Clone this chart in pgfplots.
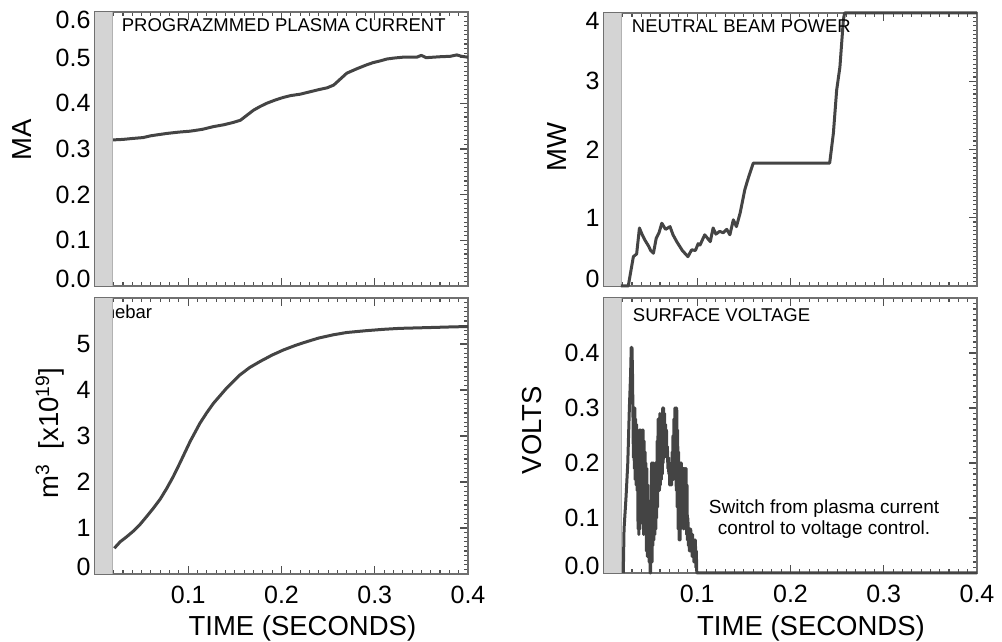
\documentclass[border=0pt]{standalone}
\usepackage{fontspec}
\setmainfont{Liberation Sans}
\usepackage{pgfplots}
\pgfplotsset{compat=1.18}
\definecolor{band}{HTML}{D4D4D4}
\definecolor{frame}{HTML}{707070}
\definecolor{tickc}{HTML}{505050}
\definecolor{trace}{HTML}{444444}
\newcommand\titlefont{\fontsize{18.5}{18.5}\selectfont}
% end labels of the y axis are pulled inside the box
\newcommand\ylab[1]{%
  \ifnum\ticknum=0 \raisebox{7pt}[\height][\depth]{\pgfmathprintnumber{\tick}}%
  \else\ifnum\ticknum=#1 \raisebox{-8pt}[\height][\depth]{\pgfmathprintnumber{\tick}}%
  \else\pgfmathprintnumber{\tick}\fi\fi}

\pgfplotsset{
  panel/.style={
    scale only axis, width=373pt, anchor=south west,
    xmin=0, xmax=0.4,
    xtick={0.1,0.2,0.3,0.4},
    minor xtick={0,0.01,...,0.4},
    tick align=inside,
    major tick length=8pt, minor tick length=4pt,
    every major tick/.append style={draw=tickc, line width=1.3pt},
    every minor tick/.append style={draw=tickc, line width=1.1pt},
    axis line style={draw=frame, line width=2pt},
    tick label style={font=\fontsize{25}{25}\selectfont},
    label style={font=\fontsize{27.5}{27.5}\selectfont},
    /pgf/number format/assume math mode=true,
    xticklabel style={yshift=-9pt},
    yticklabel style={xshift=-1pt},
  },
  trace/.style={draw=trace, line width=3pt, line join=round, mark=none},
  fix1/.style={/pgf/number format/.cd, fixed, fixed zerofill, precision=1},
}

\begin{document}
\begin{tikzpicture}
\path[use as bounding box] (0,0) rectangle (1002pt,642pt);

% programmed plasma current
\begin{axis}[panel, fix1, at={(95pt,356pt)}, height=274pt,
  ymin=0, ymax=0.6, ytick={0,0.1,0.2,0.3,0.4,0.5,0.6},
  minor ytick={0,0.01,...,0.6},
  xticklabels={}, yticklabel={\ylab{6}},
  ylabel={MA}, ylabel style={at={(axis description cs:-0.196,0.533)}, anchor=center}]
\addplot[draw=none, fill=band] coordinates {(0,0.6)(0.019,0.6)} \closedcycle;
\addplot[gray!60, line width=0.6pt] coordinates {(0.019,0)(0.019,0.6)};
\addplot[trace] coordinates {
 (0.0195,0.320)(0.0204,0.320)(0.030,0.321)(0.040,0.323)(0.0515,0.325)(0.060,0.329)
 (0.0768,0.334)(0.090,0.337)(0.102,0.339)(0.115,0.343)(0.127,0.349)(0.138,0.353)
 (0.148,0.358)(0.156,0.363)(0.163,0.374)(0.170,0.385)(0.177,0.393)(0.184,0.400)
 (0.193,0.407)(0.202,0.413)(0.210,0.417)(0.220,0.420)(0.230,0.425)(0.240,0.430)
 (0.249,0.434)(0.256,0.440)(0.263,0.453)(0.270,0.466)(0.280,0.475)(0.291,0.484)
 (0.298,0.489)(0.306,0.493)(0.313,0.497)(0.320,0.499)(0.330,0.501)(0.345,0.501)
 (0.350,0.505)(0.355,0.500)(0.370,0.502)(0.381,0.503)(0.388,0.506)(0.393,0.503)
 (0.400,0.501)};
\node[anchor=base west, inner sep=0, font=\titlefont] at (rel axis cs:0.0716,0.927) {PROGRAZMMED PLASMA CURRENT};
\end{axis}

% neutral beam power
\begin{axis}[panel, at={(604pt,356pt)}, height=273pt, clip=false,
  ymin=0, ymax=4, ytick={0,1,2,3,4},
  minor ytick={0,0.0625,...,4},
  xticklabels={}, yticklabel={\ylab{4}},
  ylabel={MW}, ylabel style={at={(axis description cs:-0.126,0.509)}, anchor=center}]
\addplot[draw=none, fill=band] coordinates {(0,4)(0.019,4)} \closedcycle;
\addplot[gray!60, line width=0.6pt] coordinates {(0.019,0)(0.019,4)};
\addplot[trace] coordinates {
 (0.018,0)(0.026,0)(0.0315,0.43)(0.035,0.47)(0.038,0.85)(0.041,0.75)(0.044,0.67)
 (0.048,0.58)(0.050,0.52)(0.053,0.48)(0.056,0.70)(0.059,0.78)(0.062,0.92)(0.066,0.83)
 (0.0708,0.87)(0.074,0.75)(0.078,0.65)(0.084,0.52)(0.090,0.43)(0.094,0.53)(0.098,0.52)
 (0.101,0.62)(0.103,0.60)(0.108,0.75)(0.111,0.70)(0.114,0.65)(0.117,0.85)(0.120,0.76)
 (0.124,0.80)(0.128,0.78)(0.1316,0.83)(0.135,0.75)(0.1387,0.97)(0.142,0.87)(0.146,1.07)
 (0.151,1.41)(0.154,1.55)(0.160,1.80)(0.242,1.80)(0.246,2.24)(0.2495,2.87)(0.253,3.21)
 (0.2567,3.90)(0.258,4.0)(0.400,4.0)};
\node[anchor=base west, inner sep=0, font=\titlefont] at (rel axis cs:0.0743,0.930) {NEUTRAL BEAM POWER};
\end{axis}

% nebar
\begin{axis}[panel, at={(95pt,68pt)}, height=276pt,
  ymin=0, ymax=6, ytick={0,1,2,3,4,5},
  minor ytick={0,0.1,...,6}, yticklabel={\ylab{99}},
  xlabel={TIME (SECONDS)}, xlabel style={at={(axis description cs:0.556,-0.196)}, anchor=center},
  ylabel={m\textsuperscript{3}\ \ [x10\textsuperscript{19}]},
  ylabel style={at={(axis description cs:-0.121,0.511)}, anchor=center}]
\node[anchor=base west, inner sep=0, font=\titlefont] at (rel axis cs:0.0257,0.9275) {nebar};
\addplot[draw=none, fill=band] coordinates {(0,6)(0.019,6)} \closedcycle;
\addplot[gray!60, line width=0.6pt] coordinates {(0.019,0)(0.019,6)};
\addplot[trace] coordinates {
 (0.0207,0.56)(0.027,0.70)(0.034,0.81)(0.041,0.93)(0.048,1.07)(0.055,1.24)(0.0626,1.43)
 (0.070,1.63)(0.0769,1.86)(0.084,2.12)(0.091,2.41)(0.102,2.88)(0.1126,3.28)(0.120,3.51)
 (0.127,3.71)(0.1415,4.05)(0.1555,4.33)(0.166,4.49)(0.177,4.62)(0.190,4.76)(0.202,4.87)
 (0.215,4.97)(0.227,5.05)(0.240,5.13)(0.2555,5.20)(0.270,5.25)(0.291,5.29)(0.310,5.32)
 (0.327,5.34)(0.345,5.35)(0.363,5.36)(0.380,5.37)(0.400,5.38)};
\end{axis}

% surface voltage
\begin{axis}[panel, fix1, at={(604pt,69pt)}, height=275pt, clip=false,
  ymin=0, ymax=0.5, ytick={0,0.1,0.2,0.3,0.4},
  minor ytick={0,0.01,...,0.5}, yticklabel={\ylab{99}},
  xlabel={TIME (SECONDS)}, xlabel style={at={(axis description cs:0.555,-0.2)}, anchor=center},
  ylabel={VOLTS}, ylabel style={at={(axis description cs:-0.193,0.52)}, anchor=center}]
\addplot[draw=none, fill=band] coordinates {(0,0.5)(0.019,0.5)} \closedcycle;
\addplot[gray!60, line width=0.6pt] coordinates {(0.019,0)(0.019,0.5)};
\addplot[trace] coordinates {
 (0.0207,0)(0.0215,0.08)(0.0237,0.14)(0.0255,0.20)(0.0272,0.30)(0.0285,0.36)(0.0292,0.41)
 (0.0300,0.41)(0.0305,0.37)(0.0310,0.30)(0.0315,0.21)
 (0.0320,0.30)(0.0325,0.19)(0.0330,0.30)(0.0335,0.17)(0.0340,0.28)(0.0345,0.16)
 (0.0350,0.27)(0.0355,0.15)(0.0360,0.24)(0.0365,0.08)(0.0370,0.22)(0.0375,0.07)
 (0.0380,0.26)(0.0385,0.08)(0.0390,0.26)(0.0395,0.09)(0.0400,0.25)(0.0405,0.12)
 (0.0410,0.26)(0.0415,0.10)(0.0420,0.26)(0.0425,0.07)(0.0430,0.24)(0.0435,0.09)
 (0.0440,0.22)(0.0445,0.10)(0.0450,0.20)(0.0455,0.04)(0.0460,0.19)(0.0465,0.03)
 (0.0470,0.16)(0.0475,0.05)(0.0480,0.12)(0.0485,0.02)(0.0490,0.05)(0.0495,0.00)
 (0.0500,0.00)(0.0505,0.10)(0.0510,0.20)(0.0515,0.02)(0.0520,0.20)(0.0525,0.05)
 (0.0530,0.20)(0.0535,0.06)(0.0540,0.19)(0.0545,0.07)(0.0550,0.20)(0.0555,0.08)
 (0.0560,0.20)(0.0565,0.10)(0.0570,0.24)(0.0575,0.12)(0.0580,0.28)(0.0585,0.17)
 (0.0590,0.28)(0.0595,0.15)(0.0600,0.29)(0.0605,0.16)(0.0610,0.28)(0.0615,0.17)
 (0.0620,0.28)(0.0625,0.18)(0.0630,0.30)(0.0635,0.20)(0.0640,0.30)(0.0645,0.21)
 (0.0650,0.29)(0.0655,0.22)(0.0660,0.27)(0.0665,0.22)(0.0670,0.26)(0.0675,0.21)
 (0.0680,0.23)(0.0685,0.19)(0.0690,0.21)(0.0695,0.18)(0.0700,0.20)(0.0705,0.16)
 (0.0710,0.19)(0.0715,0.16)(0.0720,0.19)(0.0725,0.16)(0.0730,0.22)(0.0735,0.17)
 (0.0740,0.25)(0.0745,0.17)(0.0750,0.28)(0.0755,0.18)(0.0760,0.30)(0.0765,0.18)
 (0.0770,0.30)(0.0775,0.15)(0.0780,0.30)(0.0785,0.12)(0.0790,0.26)(0.0795,0.08)
 (0.0800,0.22)(0.0805,0.06)(0.0810,0.20)(0.0815,0.06)(0.0820,0.20)(0.0825,0.08)
 (0.0830,0.20)(0.0835,0.10)(0.0840,0.19)(0.0845,0.09)(0.0850,0.19)(0.0855,0.08)
 (0.0860,0.19)(0.0865,0.10)(0.0870,0.19)(0.0875,0.09)(0.0880,0.19)(0.0885,0.07)
 (0.0890,0.16)(0.0895,0.06)(0.0900,0.10)(0.0905,0.05)(0.0910,0.08)(0.0915,0.04)
 (0.0920,0.08)(0.0925,0.04)(0.0930,0.08)(0.0935,0.04)(0.0940,0.07)(0.0945,0.03)
 (0.0950,0.07)(0.0955,0.03)(0.0960,0.06)(0.0965,0.02)(0.0970,0.06)(0.0975,0.02)
 (0.0980,0.06)(0.0985,0.01)(0.0990,0.04)(0.0995,0.00)(0.1000,0.00)(0.4000,0.00)};
\node[anchor=base west, inner sep=0, font=\titlefont] at (rel axis cs:0.077,0.913) {SURFACE VOLTAGE};
\node[align=center, anchor=center, inner sep=0, font=\fontsize{19}{21}\selectfont]
  at (rel axis cs:0.59,0.196) {Switch from plasma current\\control to voltage control.};
\end{axis}
\end{tikzpicture}
\end{document}
